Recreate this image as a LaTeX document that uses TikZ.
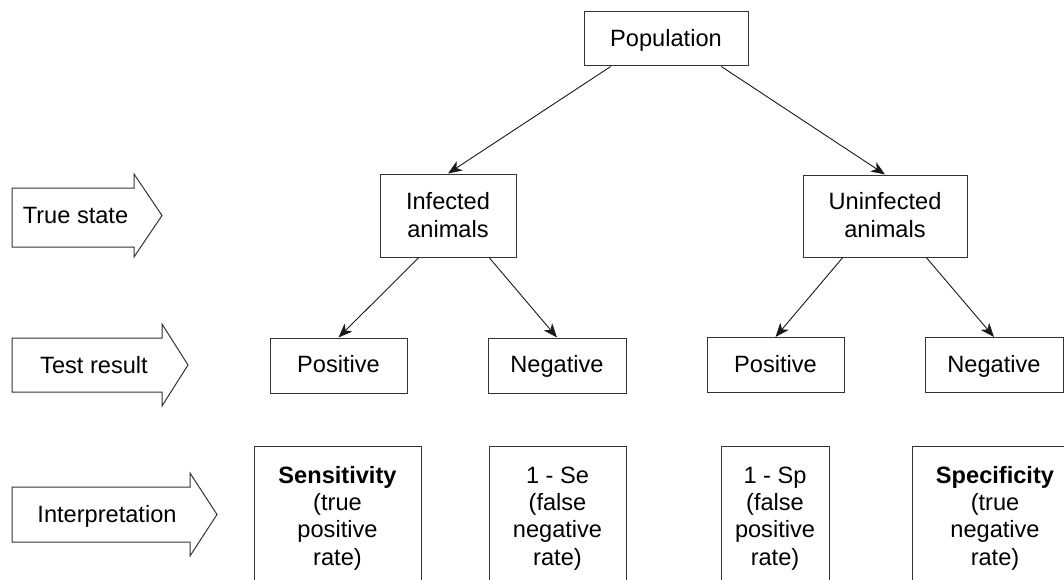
\documentclass[tikz,border=0pt]{standalone}
\usepackage{fontspec}
\setmainfont{Liberation Sans}
\usetikzlibrary{arrows.meta,calc}
\begin{document}
\begin{tikzpicture}[x=1pt,y=-1pt,
  box/.style={draw=black!80, line width=1pt, rectangle, inner sep=0pt, fill=white},
  lbl/.style={anchor=base, inner sep=0pt, align=center, font=\fontsize{23.6}{27.3}\selectfont},
  link/.style={draw=black!90, line width=0.9pt, -{Stealth[length=14pt,width=11pt,inset=4pt]}},
  side/.style={draw=black!80, line width=1pt, fill=white, line join=miter}]
\clip (0,0) rectangle (1064,580);
\useasboundingbox (0,0) rectangle (1064,580);

% side arrows naming each level
\path[side] (12,188) -- (134,188) -- (134,174) -- (162,215.5) -- (134,257) -- (134,247) -- (12,247) -- cycle;
\path[side] (12,338) -- (162,338) -- (162,324) -- (188,365) -- (162,406) -- (162,392) -- (12,392) -- cycle;
\path[side] (12,487) -- (190,487) -- (190,473) -- (217,514.5) -- (190,556) -- (190,542) -- (12,542) -- cycle;
\node[lbl] (lvl1) at (75.5,223) {True state};
\node[lbl] (lvl2) at (94,373) {Test result};
\node[lbl] (lvl3) at (107,522) {Interpretation};

% tree boxes
\node[box, minimum width=164pt, minimum height=54pt] (pop) at (666,39) {};
\node[box, minimum width=136pt, minimum height=83pt] (inf) at (448,215.5) {};
\node[box, minimum width=164pt, minimum height=82pt] (uninf) at (885,216) {};
\node[box, minimum width=137pt, minimum height=55pt] (pos1) at (338.5,365.5) {};
\node[box, minimum width=138pt, minimum height=55pt] (neg1) at (557,365.5) {};
\node[box, minimum width=137pt, minimum height=55pt] (pos2) at (775.5,365) {};
\node[box, minimum width=138pt, minimum height=55pt] (neg2) at (994,365) {};

% multi-line labels sit on the baseline of their last line
\node[lbl] (pop-t) at (666,47) {Population};
\node[lbl] (inf-t) at (448,237) {Infected\\animals};
\node[lbl] (uninf-t) at (885,237) {Uninfected\\animals};
\node[lbl] (pos1-t) at (338.5,372) {Positive};
\node[lbl] (neg1-t) at (557,372) {Negative};
\node[lbl] (pos2-t) at (775.5,372) {Positive};
\node[lbl] (neg2-t) at (994,372) {Negative};

% interpretation boxes (open at the bottom edge)
\node[box, anchor=north, minimum width=167pt, minimum height=170pt] (sens) at (337.5,446) {};
\node[box, anchor=north, minimum width=137pt, minimum height=170pt] (fneg) at (557.5,446) {};
\node[box, anchor=north, minimum width=108pt, minimum height=170pt] (fpos) at (775,446) {};
\node[box, anchor=north, minimum width=166pt, minimum height=170pt] (spec) at (995,446) {};

\node[lbl] (sens-t) at (337.5,565) {\textbf{Sensitivity}\\(true\\positive\\rate)};
\node[lbl] (fneg-t) at (557.5,565) {1 - Se\\(false\\negative\\rate)};
\node[lbl] (fpos-t) at (775,565) {1 - Sp\\(false\\positive\\rate)};
\node[lbl] (spec-t) at (995,565) {\textbf{Specificity}\\(true\\negative\\rate)};

% connectors
\draw[link] ($(pop.south west)!0.165!(pop.south east)$) -- (inf.north);
\draw[link] ($(pop.south west)!0.835!(pop.south east)$) -- (uninf.north);
\draw[link] ($(inf.south west)!0.287!(inf.south east)$) -- (pos1.north);
\draw[link] ($(inf.south west)!0.80!(inf.south east)$) -- (neg1.north);
\draw[link] ($(uninf.south west)!0.244!(uninf.south east)$) -- (pos2.north);
\draw[link] ($(uninf.south west)!0.75!(uninf.south east)$) -- (neg2.north);
\end{tikzpicture}
\end{document}
